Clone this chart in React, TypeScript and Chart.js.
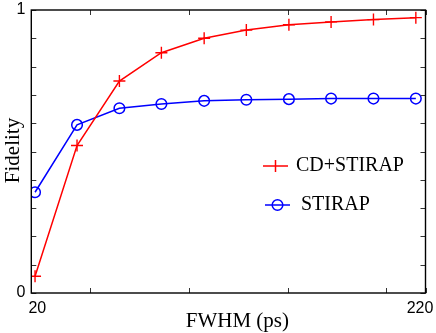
import React, { useEffect, useRef } from "react";
import { Chart, registerables } from "chart.js";

Chart.register(...registerables);

// ---- data ----
const fwhm = [21.9, 43.2, 64.7, 86.0, 107.7, 129.1, 150.7, 172.1, 193.6, 215.1];
const cdStirap = [0.059, 0.521, 0.749, 0.849, 0.9, 0.929, 0.948, 0.958, 0.966, 0.973];
const stirap = [0.356, 0.594, 0.653, 0.668, 0.679, 0.683, 0.685, 0.687, 0.687, 0.687];
const seriesLabels = ["CD+STIRAP", "STIRAP"];
const xTickValues = [20, 50, 100, 150, 200, 220];
const xLabeledTicks = [20, 220];
const yLabeledTicks = [0, 1];
const xTitle = "FWHM (ps)";
const yTitle = "Fidelity";

const RED = "#ff0000";
const BLUE = "#0000ff";

const framePlugin = {
  id: "framePlugin",
  afterDraw(chart: any) {
    const { ctx, chartArea } = chart;
    const { left, right, top, bottom } = chartArea;
    const xs = chart.scales.x;
    const ys = chart.scales.y;
    ctx.save();
    // ticks
    ctx.strokeStyle = "#333";
    ctx.lineWidth = 1;
    ys.ticks.forEach((t: any) => {
      const py = Math.round(ys.getPixelForValue(t.value)) + 0.5;
      ctx.beginPath();
      ctx.moveTo(left, py);
      ctx.lineTo(left + 5, py);
      ctx.moveTo(right, py);
      ctx.lineTo(right - 5, py);
      ctx.stroke();
    });
    xs.ticks.forEach((t: any) => {
      const px = Math.round(xs.getPixelForValue(t.value)) + 0.5;
      ctx.beginPath();
      ctx.moveTo(px, bottom);
      ctx.lineTo(px, bottom - 5);
      ctx.moveTo(px, top);
      ctx.lineTo(px, top + 5);
      ctx.stroke();
    });
    // frame
    ctx.strokeStyle = "#000";
    ctx.lineWidth = 1.4;
    ctx.strokeRect(left, top, right - left, bottom - top);

    // x tick labels (shifted inward)
    ctx.fillStyle = "#000";
    ctx.font = "16px 'Liberation Sans', Arial, sans-serif";
    ctx.textBaseline = "middle";
    ctx.textAlign = "center";
    xLabeledTicks.forEach((v, i) => {
      const px = xs.getPixelForValue(v) + (i === 0 ? 6 : -5.5);
      ctx.fillText(String(v), px, bottom + 16);
    });

    // axis titles
    ctx.font = "21px 'Liberation Serif', 'Times New Roman', serif";
    ctx.textAlign = "center";
    ctx.textBaseline = "alphabetic";
    ctx.fillText(xTitle, (left + right) / 2 + 9, 327);
    ctx.save();
    ctx.translate(19, (top + bottom) / 2 - 1);
    ctx.rotate(-Math.PI / 2);
    ctx.fillText(yTitle, 0, 0);
    ctx.restore();

    // legend
    ctx.font = "20px 'Liberation Serif', 'Times New Roman', serif";
    ctx.textAlign = "left";
    ctx.textBaseline = "middle";
    const rows = [
      { y: 166, x0: 263, x1: 288, tx: 296 },
      { y: 205, x0: 265, x1: 290, tx: 301 },
    ];
    chart.data.datasets.forEach((ds: any, i: number) => {
      const r = rows[i];
      const cx = (r.x0 + r.x1) / 2;
      ctx.strokeStyle = ds.borderColor;
      ctx.lineWidth = 1.5;
      ctx.beginPath();
      ctx.moveTo(r.x0, r.y);
      ctx.lineTo(r.x1, r.y);
      ctx.stroke();
      if (ds.pointStyle === "cross") {
        ctx.beginPath();
        ctx.moveTo(cx, r.y - ds.pointRadius);
        ctx.lineTo(cx, r.y + ds.pointRadius);
        ctx.stroke();
      } else {
        ctx.beginPath();
        ctx.arc(cx, r.y, ds.pointRadius, 0, Math.PI * 2);
        ctx.stroke();
      }
      ctx.fillStyle = "#000";
      ctx.fillText(ds.label, r.tx, r.y);
    });
    ctx.restore();
  },
};

export default function App() {
  const ref = useRef<HTMLCanvasElement>(null);
  useEffect(() => {
    document.body.style.margin = "0";
    const chart = new Chart(ref.current!, {
      type: "line",
      data: {
        datasets: [
          {
            label: seriesLabels[0],
            data: fwhm.map((x, i) => ({ x, y: cdStirap[i] })),
            borderColor: RED,
            backgroundColor: "transparent",
            borderWidth: 1.5,
            pointStyle: "cross",
            pointRadius: 6,
            pointBorderWidth: 1.4,
            pointBorderColor: RED,
            tension: 0,
          },
          {
            label: seriesLabels[1],
            data: fwhm.map((x, i) => ({ x, y: stirap[i] })),
            borderColor: BLUE,
            backgroundColor: "transparent",
            borderWidth: 1.5,
            pointStyle: "circle",
            pointRadius: 5.3,
            pointBorderWidth: 1.5,
            pointBackgroundColor: "transparent",
            pointBorderColor: BLUE,
            tension: 0,
          },
        ],
      },
      options: {
        animation: false,
        responsive: true,
        maintainAspectRatio: false,
        layout: { padding: { top: 10, right: 10.5, bottom: 0, left: 0 } },
        plugins: { legend: { display: false }, tooltip: { enabled: false } },
        scales: {
          x: {
            type: "linear",
            min: 20,
            max: 220,
            afterBuildTicks: (s: any) => {
              s.ticks = xTickValues.map((v) => ({ value: v }));
            },
            afterFit: (s: any) => {
              s.height = 40;
              s.paddingLeft = 0;
              s.paddingRight = 0;
            },
            ticks: { display: false },
            grid: { display: false },
            border: { display: false },
          },
          y: {
            type: "linear",
            min: 0,
            max: 1,
            afterFit: (s: any) => {
              s.width = 31.3;
              s.paddingTop = 0;
              s.paddingBottom = 0;
            },
            ticks: {
              stepSize: 0.1,
              autoSkip: false,
              padding: 6,
              color: "#000",
              font: { family: "'Liberation Sans', Arial, sans-serif", size: 16, lineHeight: 0.01 },
              callback: (v: any) => {
                const hit = yLabeledTicks.find((t) => Math.abs(t - Number(v)) < 1e-6);
                return hit !== undefined ? String(hit) : "";
              },
            },
            grid: { display: false, drawTicks: false },
            border: { display: false },
          },
        },
      },
      plugins: [framePlugin],
    });
    return () => chart.destroy();
  }, []);
  return (
    <div style={{ position: "fixed", left: 0, top: 0, width: 436, height: 333, background: "#fff" }}>
      <canvas ref={ref} />
    </div>
  );
}
